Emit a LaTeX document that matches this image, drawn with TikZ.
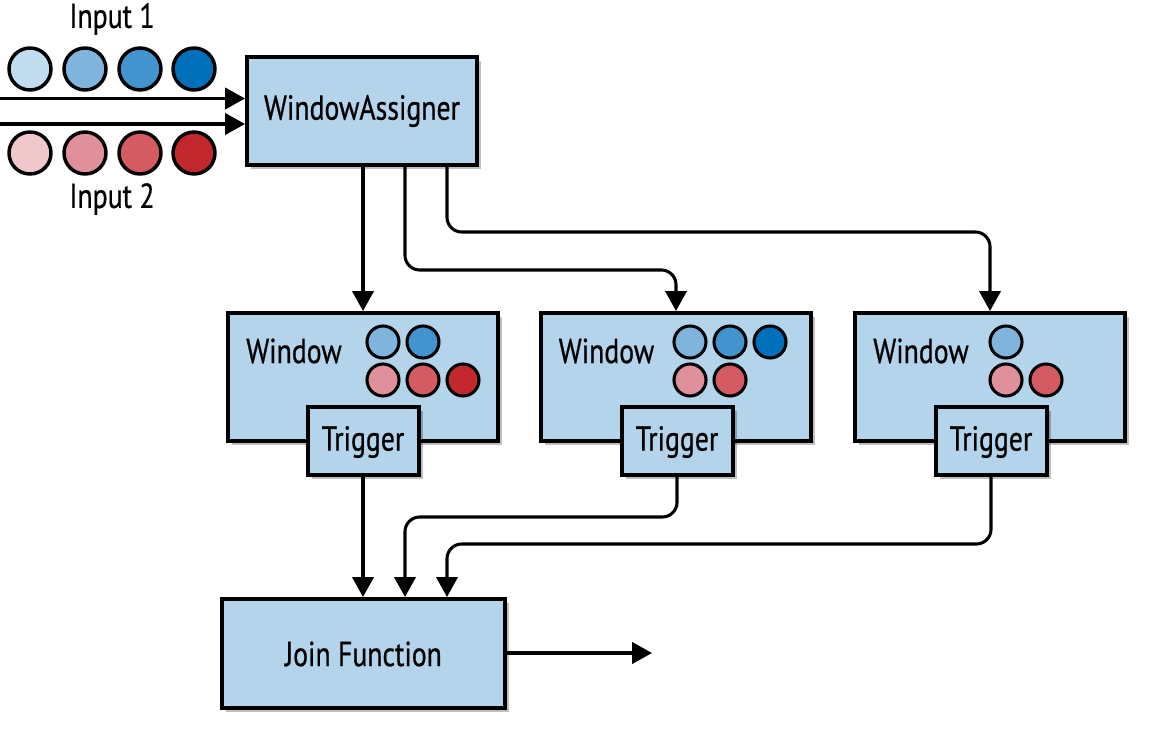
\documentclass[tikz,border=0pt]{standalone}
\usepackage{fontspec}
\newfontfamily\cond[FakeStretch=0.8,FakeBold=0.6]{PT Sans}
\usetikzlibrary{arrows.meta,shadows,calc}
\definecolor{boxfill}{HTML}{B3D4EA}
\definecolor{bA}{HTML}{C2DDEF}
\definecolor{bB}{HTML}{7FB5DD}
\definecolor{bC}{HTML}{4393CE}
\definecolor{bD}{HTML}{0070BA}
\definecolor{rA}{HTML}{F0C8CB}
\definecolor{rB}{HTML}{E0909A}
\definecolor{rC}{HTML}{D45B61}
\definecolor{rD}{HTML}{C1272D}
\tikzset{
  box/.style={draw=black, line width=3pt, fill=boxfill, inner sep=0pt,
    drop shadow={shadow xshift=3pt, shadow yshift=-3pt, fill=black, opacity=0.25}},
  lbl/.style={font=\cond\fontsize{26}{30}\selectfont, inner sep=0pt},
  ball/.style={circle, draw=black, line width=2.6pt, minimum size=31.5pt, inner sep=0pt},
  sball/.style={circle, draw=black, line width=2.3pt, minimum size=24pt, inner sep=0pt},
  arr/.style={line width=2.3pt, -{Triangle[length=15pt,width=16pt]}, rounded corners=11pt},
}
\begin{document}
\begin{tikzpicture}[x=0.75pt,y=-0.75pt]
\useasboundingbox (0,0) rectangle (1152,735);
% inputs
\node[lbl] (in1) at (112,19) {Input 1};
\node[lbl] (in2) at (112,199) {Input 2};
\node[ball,fill=bA] (t1) at (30,69) {};
\node[ball,fill=bB] (t2) at (85,69) {};
\node[ball,fill=bC] (t3) at (140,69) {};
\node[ball,fill=bD] (t4) at (194,69) {};
\node[ball,fill=rA] (u1) at (30,153) {};
\node[ball,fill=rB] (u2) at (85,153) {};
\node[ball,fill=rC] (u3) at (140,153) {};
\node[ball,fill=rD] (u4) at (194,153) {};
% window assigner
\node[box, minimum width=230*0.75pt, minimum height=108*0.75pt] (WA) at (362,111) {};
\node[lbl] (WAt) at (362,111) {WindowAssigner};
\coordinate (s1) at (0,98.5);
\coordinate (s2) at (0,124);
\draw[arr] (s1) -- (s1 -| WA.west);
\draw[arr] (s2) -- (s2 -| WA.west);
% windows
\foreach \n/\x in {1/363,2/675.5,3/990}{
  \node[box, minimum width=270*0.75pt, minimum height=128*0.75pt] (W\n) at (\x,377) {};
  \node[lbl, anchor=west] (Wt\n) at (\x-117,351) {Window};
}
\foreach \n/\x in {1/363,2/677,3/991}{
  \node[box, minimum width=111*0.75pt, minimum height=68*0.75pt] (T\n) at (\x,441) {};
  \node[lbl] (Tt\n) at (\x,442) {Trigger};
}
% window contents
\node[sball,fill=bB] (a1) at (383,342) {};
\node[sball,fill=bC] (a2) at (423,342) {};
\node[sball,fill=rB] (a3) at (383,380) {};
\node[sball,fill=rC] (a4) at (423,380) {};
\node[sball,fill=rD] (a5) at (463,380) {};
\node[sball,fill=bB] (b1) at (690,342) {};
\node[sball,fill=bC] (b2) at (730,342) {};
\node[sball,fill=bD] (b3) at (770,342) {};
\node[sball,fill=rB] (b4) at (690,380) {};
\node[sball,fill=rC] (b5) at (730,380) {};
\node[sball,fill=bB] (c1) at (1006,342) {};
\node[sball,fill=rB] (c2) at (1006,380) {};
\node[sball,fill=rC] (c3) at (1046,380) {};
% join
\node[box, minimum width=283*0.75pt, minimum height=109*0.75pt] (J) at (363.5,653.5) {};
\node[lbl] (Jt) at (363.5,654) {Join Function};
% connectors from WA
\coordinate (wa2) at ($(WA.south)+(43,0)$);
\coordinate (wa3) at ($(WA.south)+(85,0)$);
\coordinate (h2) at (0,270);
\coordinate (h3) at (0,232);
\draw[arr] (WA.south -| W1.north) -- (W1.north);
\draw[arr] (wa2) -- (wa2 |- h2) -- ($(W2.north |- h2)+(0.5,0)$) -- ($(W2.north)+(0.5,0)$);
\draw[arr] (wa3) -- (wa3 |- h3) -- (W3.north |- h3) -- (W3.north);
% connectors to join
\coordinate (j2) at ($(J.north)+(41.5,0)$);
\coordinate (j3) at ($(J.north)+(83.5,0)$);
\coordinate (g2) at (0,517);
\coordinate (g3) at (0,544);
\draw[arr] (T1.south) -- (T1.south |- J.north);
\draw[arr] (T2.south) -- (T2.south |- g2) -- (j2 |- g2) -- (j2);
\draw[arr] (T3.south) -- (T3.south |- g3) -- (j3 |- g3) -- (j3);
\coordinate (out) at (652,653);
\draw[arr] (J.east |- out) -- (out);
\end{tikzpicture}
\end{document}
